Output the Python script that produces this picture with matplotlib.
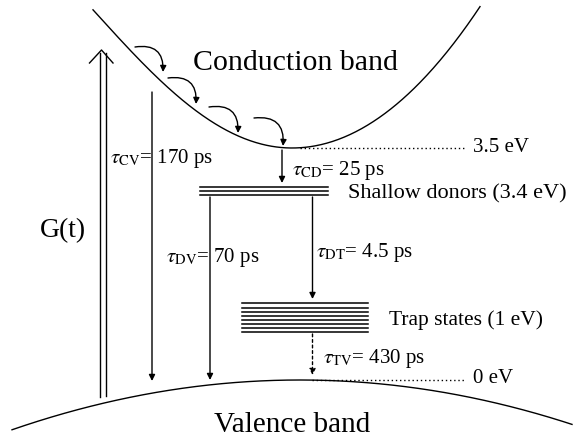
import numpy as np
import matplotlib
matplotlib.use("Agg")
import matplotlib.pyplot as plt
from matplotlib.patches import FancyArrowPatch

plt.rcParams["font.family"] = ["Liberation Serif", "DejaVu Serif"]
plt.rcParams["mathtext.fontset"] = "stix"

# Energy levels (eV) and their labels
level_energy = [3.5, 0.0]
level_labels = ["3.5 eV", "0 eV"]
state_names = ["Shallow donors (3.4 eV)", "Trap states (1 eV)"]
n_donor_lines = 3
n_trap_lines = 8

# Recombination / relaxation time constants (ps)
tau_names = ["CV", "DV", "CD", "DT", "TV"]
tau_values = [170, 70, 25, 4.5, 430]

band_names = ["Conduction band", "Valence band"]

W, H = 574, 440
fig = plt.figure(figsize=(W / 100, H / 100), dpi=100)
ax = fig.add_axes([0, 0, 1, 1])
ax.set_xlim(0, W)
ax.set_ylim(H, 0)
ax.axis("off")

k = "black"

# Conduction band (screen coords, y grows downward)
cb_x0, cb_y0 = 292, 148
xc = np.linspace(93, 480, 400)
dx = xc - cb_x0
yc = np.where(dx < 0,
              cb_y0 - (0.00421 * dx ** 2 - 1.82e-8 * dx ** 4),
              cb_y0 - 0.0040 * dx ** 2)
ax.plot(xc, yc, color=k, lw=1.0)

# Valence band: shallow arc
vb_x0, vb_y0 = 300, 380
xv = np.linspace(12, 572, 300)
yv = vb_y0 + 0.0006 * (xv - vb_x0) ** 2
ax.plot(xv, yv, color=k, lw=1.0)

fs = 15

# Reference dotted lines
level_y = {3.5: 148, 0.0: 380}
level_base = {3.5: 152, 0.0: 383}
dot_start = {3.5: 300, 0.0: 312}
for e, lab in zip(level_energy, level_labels):
    y = level_y[e]
    ax.plot([dot_start[e], 464], [y, y], color=k, lw=1.0, ls=(0, (1, 2)))
    ax.text(473, level_base[e], lab, fontsize=fs, va="baseline", ha="left")

# Shallow donor lines
donor_y = np.linspace(187, 195.5, n_donor_lines)
for y in donor_y:
    ax.plot([200, 328], [y, y], color=k, lw=1.1)
ax.text(348, 198, state_names[0], fontsize=16, va="baseline", ha="left")

# Trap state lines
trap_y = np.linspace(303.5, 332, n_trap_lines)
for y in trap_y:
    ax.plot([242, 368], [y, y], color=k, lw=1.1)
ax.text(389, 325, state_names[1], fontsize=15.5, va="baseline", ha="left")

# Band names
ax.text(295, 70, band_names[0], fontsize=21.5, va="baseline", ha="center")
ax.text(292, 432, band_names[1], fontsize=21, va="baseline", ha="center")


def down_arrow(x, y0, y1, ls="-"):
    a = FancyArrowPatch((x, y0), (x, y1), arrowstyle="-|>", mutation_scale=9,
                        color=k, lw=1.0, linestyle=ls, shrinkA=0, shrinkB=0)
    ax.add_patch(a)


def tau_label(x, y, name, val):
    ax.text(x, y, r"$\tau_{\mathrm{%s}}$= %g ps" % (name, val),
            fontsize=fs, va="baseline", ha="left")


# Generation arrow G(t): double-shaft open arrow
ax.plot([99.5, 99.5], [53, 397], color=k, lw=1.0)
ax.plot([105.5, 105.5], [53, 396], color=k, lw=1.0)
ax.plot([89.5, 101.5, 113], [63, 50, 63], color=k, lw=1.0)
ax.text(40, 237, "G(t)", fontsize=20, va="baseline", ha="left")

# Decay arrows with time constants
tau = dict(zip(tau_names, tau_values))
down_arrow(152, 92, 381)
tau_label(110, 163, "CV", tau["CV"])
down_arrow(210, 197, 380)
tau_label(166, 262, "DV", tau["DV"])
down_arrow(282, 150, 183)
tau_label(292, 175, "CD", tau["CD"])
down_arrow(312.5, 197, 299)
tau_label(316, 257, "DT", tau["DT"])
down_arrow(312.5, 334, 375, ls=(0, (2, 2)))
tau_label(323, 363, "TV", tau["TV"])

# Thermalisation hops along the conduction band
hops = [((135, 47), (163, 72)), ((168, 78), (196, 104)),
        ((209, 107), (238, 133)), ((254, 118), (283, 146))]
for a, b in hops:
    p = FancyArrowPatch(a, b, connectionstyle="arc3,rad=-0.6",
                        arrowstyle="-|>", mutation_scale=9, color=k, lw=1.0,
                        shrinkA=0, shrinkB=0)
    ax.add_patch(p)

fig.savefig("out.png", dpi=100)
